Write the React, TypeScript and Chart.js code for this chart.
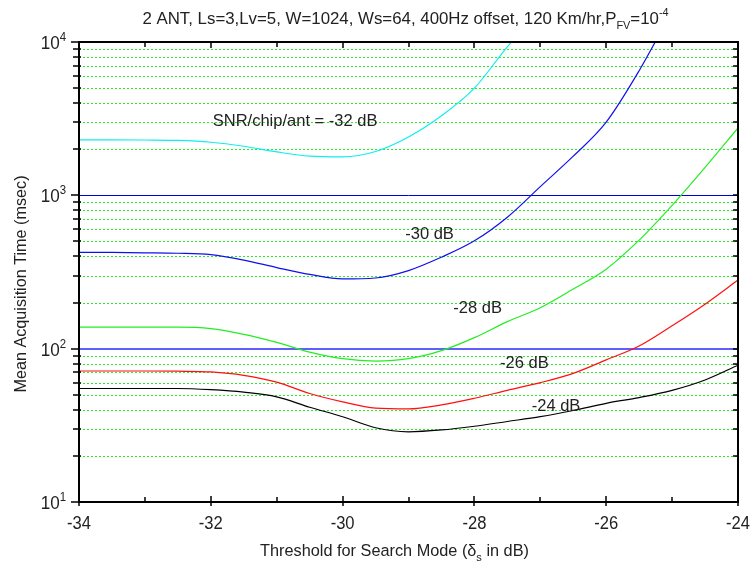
import React, { useEffect, useRef } from "react";
import { Chart, registerables } from "chart.js";

Chart.register(...registerables);

// ---------------- data ----------------
const X_VALUES = [
  -34, -33.5, -33, -32.5, -32, -31.5, -31, -30.5, -30, -29.5, -29, -28.5, -28,
  -27.5, -27, -26.5, -26, -25.5, -25, -24.5, -24,
];
const SNR_M32 = [2300, 2300, 2295, 2280, 2220, 2090, 1920, 1800, 1780, 1930, 2400, 3300, 5000, 9300, 16000];
const SNR_M30 = [425, 424, 422, 419, 410, 378, 338, 305, 285, 289, 323, 395, 505, 720, 1140, 1800, 3000, 6500, 16000];
const SNR_M28 = [138, 138, 138, 138, 135, 124, 110, 95, 86, 83, 86, 97, 118, 150, 185, 245, 330, 510, 860, 1520, 2750];
const SNR_M26 = [71.5, 71.5, 71.5, 71.3, 70.5, 67, 60.5, 51, 45, 41, 40.5, 43, 47.5, 53.5, 60, 69, 84.5, 104, 141, 195, 280];
const SNR_M24 = [55, 55, 55, 55, 54, 52, 48.5, 41.5, 36, 30.5, 28.7, 29.5, 31.2, 33.5, 36, 39.5, 44, 48, 53.5, 62.5, 78];

const X_TICKS = [-34, -32, -30, -28, -26, -24];
const X_MINOR = [-33, -31, -29, -27, -25];
const Y_DECADES = [1, 2, 3, 4];

const CURVE_LABELS = [
  { text: "SNR/chip/ant = -32 dB", x: -31.97, y: 3100 },
  { text: "-30 dB", x: -29.05, y: 568 },
  { text: "-28 dB", x: -28.32, y: 187 },
  { text: "-26 dB", x: -27.61, y: 81.8 },
  { text: "-24 dB", x: -27.13, y: 43 },
];

const TITLE_PARTS: [string, string][] = [
  ["2 ANT, Ls=3,Lv=5, W=1024, Ws=64, 400Hz offset, 120 Km/hr,P", "n"],
  ["FV", "sub"],
  ["=10", "n"],
  ["-4", "sup"],
];
const X_TITLE_PARTS: [string, string][] = [
  ["Threshold for Search Mode (\u03b4", "n"],
  ["s", "sub"],
  [" in dB)", "n"],
];
const Y_TITLE = "Mean Acquisition Time (msec)";

const FAMILY = "'Liberation Sans', Arial, sans-serif";
const TEXT_COLOR = "#222";

function pair(ys: number[]) {
  return ys.map((y, i) => ({ x: X_VALUES[i], y }));
}

function drawRich(
  ctx: CanvasRenderingContext2D,
  parts: [string, string][],
  x: number,
  y: number,
  align: "left" | "center" | "right",
  size: number,
  sx = 1
) {
  const small = Math.round(size * 0.65);
  let total = 0;
  const widths = parts.map(([t, k]) => {
    ctx.font = `${k === "n" ? size : small}px ${FAMILY}`;
    const w = ctx.measureText(t).width;
    total += w;
    return w;
  });
  ctx.save();
  ctx.translate(x, y);
  ctx.scale(sx, 1);
  let cx = align === "center" ? -total / 2 : align === "right" ? -total : 0;
  ctx.textAlign = "left";
  ctx.textBaseline = "alphabetic";
  ctx.fillStyle = TEXT_COLOR;
  parts.forEach(([t, k], i) => {
    ctx.font = `${k === "n" ? size : small}px ${FAMILY}`;
    const dy = k === "sup" ? -size * 0.45 : k === "sub" ? size * 0.3 : 0;
    ctx.fillText(t, cx, dy);
    cx += widths[i];
  });
  ctx.restore();
}

const framePlugin = {
  id: "framePlugin",
  beforeDraw(chart: any) {
    const ctx = chart.ctx;
    ctx.save();
    ctx.fillStyle = "#fff";
    ctx.fillRect(0, 0, chart.width, chart.height);
    ctx.restore();
  },
  beforeDatasetsDraw(chart: any) {
    const ctx: CanvasRenderingContext2D = chart.ctx;
    const { left, right } = chart.chartArea;
    const ys = chart.scales.y;
    ctx.save();
    // minor dotted green grid
    ctx.lineWidth = 1;
    ctx.strokeStyle = "#22ee22";
    ctx.setLineDash([2, 2]);
    for (let d = 1; d <= 3; d++) {
      for (let m = 2; m <= 9; m++) {
        const py = Math.round(ys.getPixelForValue(m * Math.pow(10, d))) + 0.5;
        ctx.beginPath();
        ctx.moveTo(left, py);
        ctx.lineTo(right, py);
        ctx.stroke();
      }
    }
    ctx.setLineDash([]);
    // major lines
    [100, 1000].forEach((v) => {
      const base = Math.round(ys.getPixelForValue(v));
      ctx.strokeStyle = v === 100 ? "#2a2aff" : "#0000dd";
      ctx.lineWidth = v === 100 ? 1.4 : 1;
      const py = v === 100 ? base : base + 0.5;
      ctx.beginPath();
      ctx.moveTo(left, py);
      ctx.lineTo(right, py);
      ctx.stroke();
    });
    ctx.restore();
  },
  afterDatasetsDraw(chart: any) {
    const ctx: CanvasRenderingContext2D = chart.ctx;
    const { left, right, top, bottom } = chart.chartArea;
    const xs = chart.scales.x;
    const ys = chart.scales.y;
    ctx.save();
    ctx.strokeStyle = "#000";
    ctx.lineWidth = 2;
    ctx.strokeRect(left, top, right - left, bottom - top);
    ctx.lineWidth = 1.5;
    // y ticks
    for (let d = 1; d <= 4; d++) {
      for (let m = 1; m <= 9; m++) {
        const v = m * Math.pow(10, d);
        if (v > 10000) break;
        const py = Math.round(ys.getPixelForValue(v));
        const major = m === 1;
        ctx.beginPath();
        ctx.moveTo(left - (major ? 8 : 6), py);
        ctx.lineTo(left + (major ? 0 : 2), py);
        ctx.moveTo(right - 5, py);
        ctx.lineTo(right, py);
        ctx.stroke();
      }
    }
    // x ticks
    X_TICKS.forEach((v) => {
      const px = Math.round(xs.getPixelForValue(v));
      ctx.beginPath();
      ctx.moveTo(px, bottom - 6);
      ctx.lineTo(px, bottom + 4);
      ctx.moveTo(px, top);
      ctx.lineTo(px, top + 6);
      ctx.stroke();
    });
    X_MINOR.forEach((v) => {
      const px = Math.round(xs.getPixelForValue(v));
      ctx.beginPath();
      ctx.moveTo(px, bottom - 5);
      ctx.lineTo(px, bottom);
      ctx.moveTo(px, top);
      ctx.lineTo(px, top + 5);
      ctx.stroke();
    });
    ctx.restore();

    // x tick labels
    X_TICKS.forEach((v) => {
      const px = xs.getPixelForValue(v);
      drawRich(ctx, [[String(v), "n"]], px, bottom + 27, "center", 18, 0.92);
    });
    // y tick labels
    Y_DECADES.forEach((d) => {
      const py = ys.getPixelForValue(Math.pow(10, d));
      drawRich(ctx, [["10", "n"], [String(d), "sup"]], left - 13, py + 7, "right", 18, 0.95);
    });
    // curve labels
    CURVE_LABELS.forEach((l) => {
      const px = xs.getPixelForValue(l.x);
      const py = ys.getPixelForValue(l.y);
      drawRich(ctx, [[l.text, "n"]], px, py + 6, "left", 16.5, 1);
    });
    // titles
    const cx = (left + right) / 2;
    drawRich(ctx, TITLE_PARTS, cx - 3, 24, "center", 17, 0.99);
    drawRich(ctx, X_TITLE_PARTS, cx - 14, 556, "center", 16.3, 1);
    ctx.save();
    ctx.translate(26, 284);
    ctx.rotate(-Math.PI / 2);
    drawRich(ctx, [[Y_TITLE, "n"]], 0, 0, "center", 16.2, 1);
    ctx.restore();
  },
};

export default function App() {
  const ref = useRef<HTMLCanvasElement | null>(null);
  useEffect(() => {
    if (!ref.current) return;
    const mk = (ys: number[], color: string) => ({
      data: pair(ys),
      borderColor: color,
      borderWidth: 1.2,
      pointRadius: 0,
      fill: false,
      cubicInterpolationMode: "monotone" as const,
    });
    const chart = new Chart(ref.current, {
      type: "line",
      data: {
        datasets: [
          mk(SNR_M32, "#11eeee"),
          mk(SNR_M30, "#1010ee"),
          mk(SNR_M28, "#22ee22"),
          mk(SNR_M26, "#ff1010"),
          mk(SNR_M24, "#000000"),
        ],
      },
      options: {
        animation: false,
        responsive: false,
        layout: { padding: { left: 79, right: 12, top: 42, bottom: 61 } },
        plugins: { legend: { display: false }, tooltip: { enabled: false }, title: { display: false } },
        scales: {
          x: { type: "linear", min: -34, max: -24, display: false },
          y: { type: "logarithmic", min: 10, max: 10000, display: false },
        },
      },
      plugins: [framePlugin],
    });
    return () => chart.destroy();
  }, []);
  return (
    <div style={{ position: "absolute", left: 0, top: 0, width: 750, height: 563 }}>
      <canvas ref={ref} width={750} height={563} style={{ display: "block" }} />
    </div>
  );
}
